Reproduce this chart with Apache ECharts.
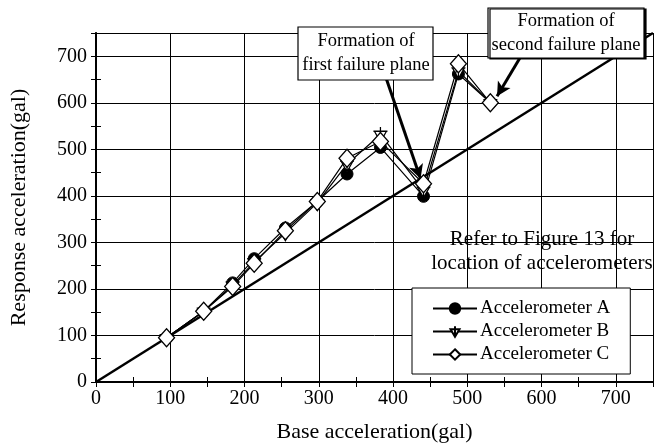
<!DOCTYPE html>
<html>
<head>
<meta charset="utf-8">
<script src="https://cdn.jsdelivr.net/npm/echarts@6/dist/echarts.min.js"></script>
<style>html,body{margin:0;padding:0;background:#fff}#c{width:660px;height:448px}</style>
</head>
<body>
<div id="c"></div>
<script>
// Data
const baseAcc = [95, 145, 184, 213, 255, 298, 338, 383, 441, 488, 531];
const accA = [95, 152, 213, 265, 331, 388, 447, 504, 399, 662, 600];
const accB = [95, 152, 208, 258, 320, 385, 468, 532, 412, 668, 600];
const accC = [95, 152, 205, 255, 325, 388, 481, 517, 426, 684, 600];
const oneToOne = [[0, 0], [750, 750]];
const arrow1 = [[390, 656], [437, 437]];
const arrow2 = [[574, 705], [540, 614]];
const seriesNames = ['Accelerometer A', 'Accelerometer B', 'Accelerometer C'];
const axisTicks = [0, 100, 200, 300, 400, 500, 600, 700];

const FONT = '"Liberation Serif", "Times New Roman", serif';
const pair = (xs, ys) => xs.map((x, i) => [x, ys[i]]);

const chart = echarts.init(document.getElementById('c'), null, {renderer: 'canvas'});

const axisCommon = {
  type: 'value', min: 0, max: 750, interval: 100,
  axisLine: {show: true, lineStyle: {color: '#000', width: 2}},
  axisTick: {show: true, inside: true, length: 5, lineStyle: {color: '#000', width: 1}},
  minorTick: {show: true, splitNumber: 2, length: 5, lineStyle: {color: '#000', width: 1}},
  splitLine: {show: false}
};

const option = {
  backgroundColor: '#fff',
  animation: false,
  grid: {left: 95, right: 7, top: 33, bottom: 59, containLabel: false},
  legend: {
    orient: 'vertical', left: 412, top: 288,
    data: seriesNames,
    padding: [11, 20, 10, 20], itemGap: 4, itemWidth: 44, itemHeight: 13,
    borderColor: '#000', borderWidth: 1, backgroundColor: '#fff',
    textStyle: {fontFamily: FONT, fontSize: 19, color: '#000', padding: [0, 0, 0, -2]}
  },
  xAxis: [
    Object.assign({}, axisCommon, {
      position: 'bottom',
      name: 'Base acceleration(gal)', nameLocation: 'middle', nameGap: 39,
      nameTextStyle: {fontFamily: FONT, fontSize: 22, color: '#000'},
      axisLabel: {fontFamily: FONT, fontSize: 20, color: '#000', margin: 7,
        showMaxLabel: false,
        formatter: v => axisTicks.includes(v) ? String(v) : ''},
      splitLine: {show: true, lineStyle: {color: '#000', width: 1}}
    }),
    Object.assign({}, axisCommon, {position: 'top', axisLabel: {show: false},
      axisLine: {show: true, lineStyle: {color: '#000', width: 1.5}}})
  ],
  yAxis: [
    Object.assign({}, axisCommon, {
      position: 'left',
      name: 'Response acceleration(gal)', nameLocation: 'middle', nameGap: 66,
      nameTextStyle: {fontFamily: FONT, fontSize: 22, color: '#000'},
      axisLabel: {fontFamily: FONT, fontSize: 20, color: '#000', margin: 9,
        showMaxLabel: false,
        formatter: v => axisTicks.includes(v) ? String(v) : ''},
      splitLine: {show: true, lineStyle: {color: '#000', width: 1}}
    }),
    Object.assign({}, axisCommon, {position: 'right', axisLabel: {show: false},
      axisLine: {show: true, lineStyle: {color: '#000', width: 1.5}}})
  ],
  series: [
    {
      name: 'one-to-one', type: 'line', data: oneToOne, symbol: 'none',
      lineStyle: {color: '#000', width: 2.5}, z: 2, silent: true,
      markLine: {
        silent: true, symbol: ['none', 'arrow'], symbolSize: [11, 14],
        label: {show: false},
        lineStyle: {color: '#000', width: 3, type: 'solid'},
        data: [
          [{coord: arrow1[0]}, {coord: arrow1[1]}],
          [{coord: arrow2[0]}, {coord: arrow2[1]}]
        ]
      }
    },
    {
      name: seriesNames[0], type: 'line', data: pair(baseAcc, accA),
      symbol: 'circle', symbolSize: 12,
      itemStyle: {color: '#000', borderColor: '#000', borderWidth: 1},
      lineStyle: {color: '#000', width: 1.2}, z: 3
    },
    {
      name: seriesNames[1], type: 'line', data: pair(baseAcc, accB),
      symbol: 'path://M1,4 L13,4 L7,14 Z M0,4 L14,4 M7,0 L7,14', symbolSize: [14, 15],
      itemStyle: {color: '#fff', borderColor: '#000', borderWidth: 1.3},
      lineStyle: {color: '#000', width: 1.2}, z: 4
    },
    {
      name: seriesNames[2], type: 'line', data: pair(baseAcc, accC),
      symbol: 'diamond', symbolSize: [16, 18],
      itemStyle: {color: '#fff', borderColor: '#000', borderWidth: 1.3},
      lineStyle: {color: '#000', width: 1.2}, z: 5
    }
  ],
  graphic: [
    {
      type: 'rect', z: 100,
      shape: {x: 298, y: 27, width: 135, height: 53},
      style: {fill: '#fff', stroke: '#000', lineWidth: 1.2}
    },
    {
      type: 'text', z: 101, x: 366, y: 29,
      style: {text: 'Formation of\nfirst failure plane', font: '18.5px ' + FONT,
        fill: '#000', align: 'center', verticalAlign: 'top', lineHeight: 24}
    },
    {
      type: 'rect', z: 100,
      shape: {x: 488, y: 8, width: 156, height: 50},
      style: {fill: '#fff', stroke: '#000', lineWidth: 1.2, shadowColor: '#000', shadowOffsetX: 2, shadowOffsetY: 1}
    },
    {
      type: 'text', z: 101, x: 566, y: 9,
      style: {text: 'Formation of\nsecond failure plane', font: '18.5px ' + FONT,
        fill: '#000', align: 'center', verticalAlign: 'top', lineHeight: 24}
    },
    {
      type: 'text', z: 101, x: 542, y: 227,
      style: {text: 'Refer to Figure 13 for\nlocation of accelerometers', font: '21px ' + FONT,
        fill: '#000', align: 'center', verticalAlign: 'top', lineHeight: 24}
    }
  ]
};
chart.setOption(option);
</script>
</body>
</html>
